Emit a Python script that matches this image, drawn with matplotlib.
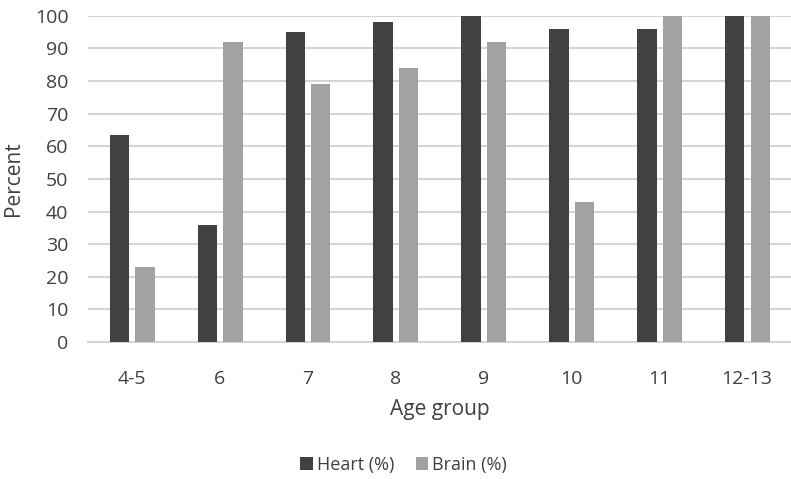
import numpy as np
import matplotlib.pyplot as plt
from matplotlib import font_manager

age_groups = ["4-5", "6", "7", "8", "9", "10", "11", "12-13"]
heart_pct = [63.5, 36, 95, 98, 100, 96, 96, 100]
brain_pct = [23, 92, 79, 84, 92, 43, 100, 100]

names = {f.name for f in font_manager.fontManager.ttflist}
family = "Liberation Sans Narrow" if "Liberation Sans Narrow" in names else "Open Sans"
plt.rcParams["font.family"] = [family, "DejaVu Sans"]

heart_color, brain_color = "#414141", "#a2a2a2"
grid_color, text_color = "#d4d4d4", "#404040"

fig = plt.figure(figsize=(7.91, 4.79), dpi=100)
ax = fig.add_axes([0.111, 0.286, 0.889, 0.681])

x = np.arange(len(age_groups))
w = 0.22
ax.bar(x - 0.14, heart_pct, w, color=heart_color, label="Heart (%)", zorder=3)
ax.bar(x + 0.15, brain_pct, w, color=brain_color, label="Brain (%)", zorder=3)

ax.set_xlim(-0.5, len(age_groups) - 0.5)
ax.set_ylim(0, 100)
ax.set_yticks(range(0, 101, 10))
ax.set_xticks(x)
ax.set_xticklabels(age_groups)

ax.yaxis.grid(True, color=grid_color, linewidth=1.5, zorder=0)
ax.set_axisbelow(True)
for side in ["top", "right", "left"]:
    ax.spines[side].set_visible(False)
ax.spines["bottom"].set_color(grid_color)
ax.spines["bottom"].set_linewidth(1.5)
ax.tick_params(length=0, labelsize=14, colors=text_color)
ax.tick_params(axis="x", pad=20)
ax.tick_params(axis="y", pad=14)

ax.set_xlabel("Age group", fontsize=15, color=text_color, labelpad=8)
ax.set_ylabel("Percent", fontsize=15, color=text_color, labelpad=8)

fig.legend(loc="center", bbox_to_anchor=(0.51, 0.03), ncol=2, frameon=False,
           fontsize=13, handlelength=0.7, handleheight=0.7, handletextpad=0.2,
           columnspacing=1.2, labelcolor=text_color)

fig.savefig("out.png", dpi=100)
